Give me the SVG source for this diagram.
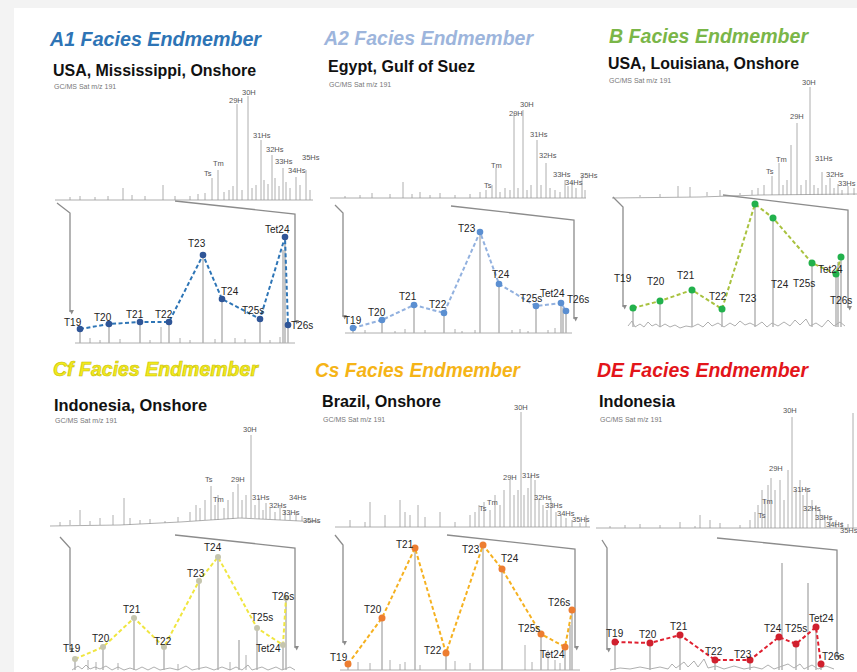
<svg xmlns="http://www.w3.org/2000/svg" width="857" height="672" viewBox="0 0 857 672">
<defs>
<marker id="ar" viewBox="0 0 6 6" refX="3" refY="5" markerWidth="5" markerHeight="5" orient="auto-start-reverse" markerUnits="userSpaceOnUse"><path d="M0,0 L6,0 L3,6 Z" fill="#8c8c8c" transform="rotate(-90 3 3)"/></marker>
<style>
.ttl{font-family:'Liberation Sans',Arial,sans-serif;font-style:italic;font-weight:bold;font-size:19.5px}
.sub{font-family:'Liberation Sans',Arial,sans-serif;font-weight:bold;font-size:17px;fill:#111}
.gc{font-family:'Liberation Sans',Arial,sans-serif;font-size:7px;fill:#777}
.pk{font-family:'Liberation Sans',Arial,sans-serif;font-size:7.5px;fill:#555}
.lb{font-family:'Liberation Sans',Arial,sans-serif;font-size:10px;fill:#222}
.chr{fill:none;stroke:#9a9a9a;stroke-width:0.8}
.pkl{fill:none;stroke:#b0b0b0;stroke-width:1.4}
.brk{fill:none;stroke:#8c8c8c;stroke-width:1.3}
.dl{fill:none;stroke-width:2;stroke-dasharray:4 2.5}
</style>
</defs>
<rect x="0" y="0" width="857" height="672" fill="#f3f3f3"/>
<rect x="14" y="8" width="843" height="664" fill="#ffffff"/>

<g id="connectors">
<path class="brk" d="M57,203 L70,213 V312" marker-end="url(#ar)"/>
<path class="brk" d="M175,201 L295,214 V322" marker-end="url(#ar)"/>
<path class="brk" d="M335,205 L343,213 V317" marker-end="url(#ar)"/>
<path class="brk" d="M451,206 L574,220 V319" marker-end="url(#ar)"/>
<path class="brk" d="M613,197 L623,207 V307" marker-end="url(#ar)"/>
<path class="brk" d="M723,195 L848,210 V308" marker-end="url(#ar)"/>
<path class="brk" d="M60,537 L70,548 V650" marker-end="url(#ar)"/>
<path class="brk" d="M175,535 L295,548 V648" marker-end="url(#ar)"/>
<path class="brk" d="M335,535 L343,545 V643" marker-end="url(#ar)"/>
<path class="brk" d="M447,535 L575,549 V648" marker-end="url(#ar)"/>
<path class="brk" d="M602,540 L607,548 V650" marker-end="url(#ar)"/>
<path class="brk" d="M717,538 L837,550 V657" marker-end="url(#ar)"/>
</g>

<g id="a1">
<text class="ttl" x="50" y="46" fill="#2e74b5" textLength="211" lengthAdjust="spacingAndGlyphs">A1 Facies Endmember</text>
<text class="sub" x="53" y="76" textLength="203" lengthAdjust="spacingAndGlyphs">USA, Mississippi, Onshore</text>
<text class="gc" x="54" y="89">GC/MS Sat m/z 191</text>
<path class="chr" d="M55,200 H313 M70,200V197 M80,200V196 M95,200V197 M108,200V196 M123,200V188 M132,200V195 M145,200V196 M163,200V185 M175,200V196 M190,200V196 M198,200V194 M205,200V193 M212,200V178 M218,200V170 M224,200V192 M229,200V190 M233,200V186 M237,200V104 M242,200V190 M248,200V96 M252,200V188 M256,200V185 M261,200V140 M264,200V180 M268,200V184 M272,200V155 M275,200V178 M279,200V186 M283,200V168 M286,200V182 M290,200V188 M296,200V177 M300,200V185 M306,200V170 M310,200V190"/>
<text class="pk" x="242" y="95">30H</text>
<text class="pk" x="229" y="103">29H</text>
<text class="pk" x="253" y="138">31Hs</text>
<text class="pk" x="266" y="152">32Hs</text>
<text class="pk" x="275" y="164">33Hs</text>
<text class="pk" x="288" y="173">34Hs</text>
<text class="pk" x="302" y="160">35Hs</text>
<text class="pk" x="213" y="166">Tm</text>
<text class="pk" x="204" y="176">Ts</text>
<path class="chr" d="M75,343 H295 M90,343V338 M100,343V340 M120,343V339 M150,343V340 M161,343V327 M180,343V338 M190,343V340 M215,343V339 M235,343V338 M245,343V339 M270,343V340 M280,343V337"/>
<path class="pkl" d="M80,343V329 M109,343V324 M140,343V322 M169,343V322 M203,343V255 M222,343V299 M260,343V319 M285,343V237 M283,343V250 M288,343V325"/>
<path class="dl" stroke="#2e75b6" d="M80,329 L109,324 L140,322 L169,322 L203,255 L222,299 L260,319 L285,237 L288,325"/>
<g fill="#2f5597">
<circle cx="80" cy="329" r="3.3"/><circle cx="109" cy="324" r="3.3"/><circle cx="140" cy="322" r="3.3"/><circle cx="169" cy="322" r="3.3"/><circle cx="203" cy="255" r="3.3"/><circle cx="222" cy="299" r="3.3"/><circle cx="260" cy="319" r="3.3"/><circle cx="285" cy="237" r="3.3"/><circle cx="288" cy="325" r="3.3"/>
</g>
<text class="lb" x="64" y="326">T19</text>
<text class="lb" x="94" y="321">T20</text>
<text class="lb" x="126" y="318">T21</text>
<text class="lb" x="155" y="318">T22</text>
<text class="lb" x="188" y="247">T23</text>
<text class="lb" x="221" y="295">T24</text>
<text class="lb" x="242" y="314">T25s</text>
<text class="lb" x="265" y="233">Tet24</text>
<text class="lb" x="291" y="329">T26s</text>
</g>

<g id="a2">
<text class="ttl" x="324" y="45" fill="#9db5dc" textLength="209" lengthAdjust="spacingAndGlyphs">A2 Facies Endmember</text>
<text class="sub" x="328" y="72" textLength="147" lengthAdjust="spacingAndGlyphs">Egypt, Gulf of Suez</text>
<text class="gc" x="329" y="87">GC/MS Sat m/z 191</text>
<path class="chr" d="M330,198 H586 M345,198V196 M360,198V195 M372,198V193 M390,198V194 M403,198V182 M412,198V194 M420,198V192 M430,198V195 M440,198V193 M455,198V195 M470,198V194 M480,198V192 M486,198V190 M492,198V185 M496,198V168 M500,198V192 M505,198V188 M510,198V190 M514,198V113 M518,198V188 M523,198V110 M527,198V190 M531,198V185 M537,198V140 M541,198V185 M546,198V163 M550,198V188 M555,198V190 M560,198V192 M565,198V180 M568,198V186 M572,198V182 M576,198V188 M582,198V175 M585,198V190"/>
<text class="pk" x="520" y="107">30H</text>
<text class="pk" x="509" y="116">29H</text>
<text class="pk" x="530" y="137">31Hs</text>
<text class="pk" x="539" y="158">32Hs</text>
<text class="pk" x="553" y="177">33Hs</text>
<text class="pk" x="565" y="185">34Hs</text>
<text class="pk" x="580" y="178">35Hs</text>
<text class="pk" x="491" y="168">Tm</text>
<text class="pk" x="484" y="188">Ts</text>
<path class="chr" d="M345,333 H572 M365,333V330 M395,333V331 M405,333V329 M425,333V330 M455,333V329 M462,333V331 M475,333V330 M512,333V330 M520,333V329 M528,333V331 M548,333V330 M555,333V328"/>
<path class="pkl" d="M353,333V328 M382,333V320 M414,333V305 M444,333V313 M480,333V232 M499,333V284 M536,333V306 M561,333V303 M563,333V308 M566,333V311"/>
<path class="dl" stroke="#92b1df" d="M353,328 L382,320 L414,305 L444,313 L480,232 L499,284 L536,306 L561,303 L566,311"/>
<g fill="#5b8fd1">
<circle cx="353" cy="328" r="3.3"/><circle cx="382" cy="320" r="3.3"/><circle cx="414" cy="305" r="3.3"/><circle cx="444" cy="313" r="3.3"/><circle cx="480" cy="232" r="3.3"/><circle cx="499" cy="284" r="3.3"/><circle cx="536" cy="306" r="3.3"/><circle cx="561" cy="303" r="3.3"/><circle cx="566" cy="311" r="3.3"/>
</g>
<text class="lb" x="344" y="324">T19</text>
<text class="lb" x="368" y="316">T20</text>
<text class="lb" x="399" y="300">T21</text>
<text class="lb" x="429" y="308">T22</text>
<text class="lb" x="458" y="232">T23</text>
<text class="lb" x="492" y="278">T24</text>
<text class="lb" x="520" y="302">T25s</text>
<text class="lb" x="540" y="297">Tet24</text>
<text class="lb" x="567" y="303">T26s</text>
</g>

<g id="b">
<text class="ttl" x="609" y="43" fill="#7ab648" textLength="199" lengthAdjust="spacingAndGlyphs">B Facies Endmember</text>
<text class="sub" x="608" y="69" textLength="191" lengthAdjust="spacingAndGlyphs">USA, Louisiana, Onshore</text>
<text class="gc" x="609" y="83">GC/MS Sat m/z 191</text>
<path class="chr" d="M612,198 L700,197 L760,195 L857,194 M640,197V195 M660,197V194 M678,197V186 M690,197V187 M707,196V192 M720,196V190 M740,195V193 M752,195V190 M758,195V188 M764,195V185 M772,195V176 M779,195V163 M783,195V185 M787,195V180 M791,195V145 M797,195V123 M801,195V185 M806,195V180 M810,195V87 M814,195V185 M818,195V188 M822,195V172 M826,195V185 M830,195V178 M834,195V188 M838,195V184 M842,195V190 M848,195V186 M854,195V188"/>
<text class="pk" x="802" y="85">30H</text>
<text class="pk" x="790" y="119">29H</text>
<text class="pk" x="776" y="162">Tm</text>
<text class="pk" x="766" y="174">Ts</text>
<text class="pk" x="815" y="161">31Hs</text>
<text class="pk" x="826" y="177">32Hs</text>
<text class="pk" x="838" y="186">33Hs</text>
<path class="chr" d="M628,326 L632,321 L635,327 L640,324 L644,327 L648,322 L652,326 L656,324 L660,327 L665,324 L670,327 L675,325 L680,328 L686,326 L692,327 L698,324 L703,327 L708,322 L712,326 L718,323 L724,327 L730,323 L735,326 L740,321 L745,325 L750,323 L756,326 L762,322 L767,327 L772,323 L778,326 L784,322 L790,326 L795,320 L800,325 L806,319 L810,326 L816,323 L822,327 L828,320 L834,326 L840,322 L845,326"/>
<path class="pkl" d="M633,327V308 M660,327V301 M692,327V290 M722,327V309 M755,327V204 M773,327V218 M812,327V263 M836,327V274 M838,327V262 M841,327V257"/>
<path class="dl" stroke="#a9c23f" d="M633,308 L660,301 L692,290 L722,309 L755,204 L773,218 L812,263 L836,274 L841,257"/>
<g fill="#22b14c">
<circle cx="633" cy="308" r="3.5"/><circle cx="660" cy="301" r="3.5"/><circle cx="692" cy="290" r="3.5"/><circle cx="722" cy="309" r="3.5"/><circle cx="755" cy="204" r="3.5"/><circle cx="773" cy="218" r="3.5"/><circle cx="812" cy="263" r="3.5"/><circle cx="836" cy="274" r="3.5"/><circle cx="841" cy="257" r="3.5"/>
</g>
<text class="lb" x="614" y="282">T19</text>
<text class="lb" x="647" y="285">T20</text>
<text class="lb" x="677" y="279">T21</text>
<text class="lb" x="709" y="300">T22</text>
<text class="lb" x="739" y="302">T23</text>
<text class="lb" x="771" y="288">T24</text>
<text class="lb" x="793" y="287">T25s</text>
<text class="lb" x="818" y="273">Tet24</text>
<text class="lb" x="830" y="304">T26s</text>
</g>

<g id="cf">
<text class="ttl" x="53" y="376" fill="#f2ea1d" stroke="#c9c000" stroke-width="0.6" textLength="205" lengthAdjust="spacingAndGlyphs">Cf Facies Endmember</text>
<text class="sub" x="54" y="411" textLength="153" lengthAdjust="spacingAndGlyphs">Indonesia, Onshore</text>
<text class="gc" x="55" y="423">GC/MS Sat m/z 191</text>
<path class="chr" d="M50,526 L120,525 L180,522 L240,518 L320,522 M60,526V522 M70,525V520 M80,525V510 M90,525V521 M100,525V518 M113,525V515 M124,525V498 M130,525V518 M140,524V520 M150,524V519 M165,523V521 M178,522V517 M190,521V512 M196,521V505 M200,521V508 M205,520V500 M211,520V486 M215,520V505 M218,520V495 M224,519V508 M228,519V500 M233,519V492 M238,518V484 M242,518V500 M246,518V495 M251,518V435 M255,518V505 M259,519V498 M263,519V510 M266,519V503 M270,519V508 M275,520V512 M280,520V506 M285,520V510 M290,520V514 M296,521V512 M302,521V516 M308,521V518 M314,522V520"/>
<text class="pk" x="243" y="432">30H</text>
<text class="pk" x="205" y="482">Ts</text>
<text class="pk" x="231" y="482">29H</text>
<text class="pk" x="213" y="502">Tm</text>
<text class="pk" x="252" y="500">31Hs</text>
<text class="pk" x="269" y="508">32Hs</text>
<text class="pk" x="282" y="515">33Hs</text>
<text class="pk" x="289" y="500">34Hs</text>
<text class="pk" x="303" y="523">35Hs</text>
<path class="chr" d="M72,670 L78,666 L82,669 L86,665 L90,669 L95,667 L100,669 L106,666 L112,670 L118,667 L124,670 L130,668 L136,670 L142,667 L148,670 L154,667 L160,670 L170,668 L178,670 L186,666 L192,670 L206,667 L214,670 L222,667 L230,670 L236,667 L242,670 L248,665 L252,670 L262,667 L268,670 L276,667 L282,670 L290,667 L295,670 M88,670V660 M96,670V662 M118,670V663 M178,670V664 M230,670V662 M246,670V655"/>
<path class="pkl" d="M75,670V659 M103,670V647 M134,670V618 M164,670V647 M199,670V581 M218,670V557 M239,670V640 M257,670V628 M283,670V645 M286,670V598"/>
<path class="dl" stroke="#f0e640" d="M75,659 L103,647 L134,618 L164,647 L199,581 L218,557 L257,628 L283,645 L286,598"/>
<g fill="#c5c5ae">
<circle cx="75" cy="659" r="3"/><circle cx="103" cy="647" r="3"/><circle cx="134" cy="618" r="3"/><circle cx="164" cy="647" r="3"/><circle cx="199" cy="581" r="3"/><circle cx="218" cy="557" r="3"/><circle cx="257" cy="628" r="3"/><circle cx="283" cy="645" r="3"/><circle cx="286" cy="598" r="3"/>
</g>
<text class="lb" x="63" y="652">T19</text>
<text class="lb" x="92" y="642">T20</text>
<text class="lb" x="123" y="613">T21</text>
<text class="lb" x="154" y="645">T22</text>
<text class="lb" x="187" y="577">T23</text>
<text class="lb" x="204" y="551">T24</text>
<text class="lb" x="251" y="621">T25s</text>
<text class="lb" x="256" y="652">Tet24</text>
<text class="lb" x="272" y="600">T26s</text>
</g>

<g id="cs">
<text class="ttl" x="315" y="377" fill="#f5b417" textLength="205" lengthAdjust="spacingAndGlyphs">Cs Facies Endmember</text>
<text class="sub" x="322" y="407" textLength="119" lengthAdjust="spacingAndGlyphs">Brazil, Onshore</text>
<text class="gc" x="323" y="422">GC/MS Sat m/z 191</text>
<path class="chr" d="M335,527 H590 M350,527V520 M365,527V522 M370,527V502 M385,527V515 M400,527V500 M405,527V512 M410,527V515 M418,527V505 M425,527V517 M440,527V512 M455,527V522 M470,527V515 M475,527V512 M479,527V505 M484,527V502 M490,527V510 M495,527V495 M500,527V505 M504,527V490 M510,527V480 M514,527V495 M518,527V490 M521,527V412 M524,527V495 M528,527V488 M531,527V475 M535,527V480 M539,527V500 M543,527V505 M547,527V510 M551,527V500 M556,527V512 M561,527V515 M566,527V518 M572,527V520 M580,527V523 M586,527V515"/>
<text class="pk" x="514" y="410">30H</text>
<text class="pk" x="503" y="480">29H</text>
<text class="pk" x="522" y="478">31Hs</text>
<text class="pk" x="534" y="500">32Hs</text>
<text class="pk" x="545" y="508">33Hs</text>
<text class="pk" x="557" y="516">34Hs</text>
<text class="pk" x="572" y="522">35Hs</text>
<text class="pk" x="487" y="505">Tm</text>
<text class="pk" x="479" y="511">Ts</text>
<path class="chr" d="M340,670 H580 M358,670V662 M370,670V663 M390,670V660 M400,670V664 M405,670V662 M420,670V665 M455,670V661 M470,670V663 M525,670V645 M532,670V662 M548,670V650 M555,670V660 M560,670V663"/>
<path class="pkl" d="M348,670V664 M382,670V618 M415,670V548 M446,670V653 M483,670V545 M502,670V569 M541,670V634 M565,670V647 M570,670V625 M572,670V610"/>
<path class="dl" stroke="#f5b120" d="M348,664 L382,618 L415,548 L446,653 L483,545 L502,569 L541,634 L565,647 L572,610"/>
<g fill="#ed7d31">
<circle cx="348" cy="664" r="3.5"/><circle cx="382" cy="618" r="3.5"/><circle cx="415" cy="548" r="3.5"/><circle cx="446" cy="653" r="3.5"/><circle cx="483" cy="545" r="3.5"/><circle cx="502" cy="569" r="3.5"/><circle cx="541" cy="634" r="3.5"/><circle cx="565" cy="647" r="3.5"/><circle cx="572" cy="610" r="3.5"/>
</g>
<text class="lb" x="330" y="661">T19</text>
<text class="lb" x="364" y="613">T20</text>
<text class="lb" x="396" y="548">T21</text>
<text class="lb" x="424" y="654">T22</text>
<text class="lb" x="462" y="553">T23</text>
<text class="lb" x="501" y="562">T24</text>
<text class="lb" x="518" y="632">T25s</text>
<text class="lb" x="540" y="658">Tet24</text>
<text class="lb" x="548" y="606">T26s</text>
</g>

<g id="de">
<text class="ttl" x="597" y="377" fill="#e3151a" textLength="211" lengthAdjust="spacingAndGlyphs">DE Facies Endmember</text>
<text class="sub" x="599" y="407" textLength="76" lengthAdjust="spacingAndGlyphs">Indonesia</text>
<text class="gc" x="600" y="422">GC/MS Sat m/z 191</text>
<path class="chr" d="M596,528 H857 M610,528V526 M625,528V525 M640,528V524 M660,528V525 M680,528V522 M695,528V526 M700,528V515 M710,528V520 M720,528V523 M740,528V525 M750,528V520 M755,528V512 M758,528V505 M762,528V490 M765,528V500 M768,528V485 M771,528V478 M775,528V490 M780,528V480 M784,528V500 M788,528V470 M792,528V417 M796,528V490 M800,528V480 M803,528V495 M807,528V488 M812,528V500 M816,528V505 M820,528V510 M825,528V515 M830,528V518 M836,528V520 M842,528V522 M848,528V524 M853,528V413"/>
<text class="pk" x="783" y="413">30H</text>
<text class="pk" x="769" y="471">29H</text>
<text class="pk" x="793" y="492">31Hs</text>
<text class="pk" x="762" y="504">Tm</text>
<text class="pk" x="758" y="518">Ts</text>
<text class="pk" x="803" y="511">32Hs</text>
<text class="pk" x="815" y="520">33Hs</text>
<text class="pk" x="826" y="527">34Hs</text>
<text class="pk" x="840" y="533">35Hs</text>
<path class="chr" d="M610,670 L620,668 L630,669 L640,667 L650,669 L660,667 L668,669 L672,664 L676,668 L684,662 L688,667 L694,661 L698,667 L704,659 L708,668 L716,666 L724,669 L734,666 L744,669 L754,667 L762,669 L768,665 L774,669 L788,664 L794,668 L800,664 L804,669 L812,665 L818,669 L826,666 L834,669"/>
<path class="pkl" d="M615,670V642 M650,670V643 M680,670V635 M715,670V660 M750,670V660 M779,670V637 M782,670V563 M796,670V644 M808,670V583 M816,670V627 M821,670V664"/>
<path class="dl" stroke="#e02030" d="M615,642 L650,643 L680,635 L715,660 L750,660 L779,637 L796,644 L816,627 L821,664"/>
<g fill="#d0202e">
<circle cx="615" cy="642" r="3.5"/><circle cx="650" cy="643" r="3.5"/><circle cx="680" cy="635" r="3.5"/><circle cx="715" cy="660" r="3.5"/><circle cx="750" cy="660" r="3.5"/><circle cx="779" cy="637" r="3.5"/><circle cx="796" cy="644" r="3.5"/><circle cx="816" cy="627" r="3.5"/><circle cx="821" cy="664" r="3.5"/>
</g>
<text class="lb" x="606" y="637">T19</text>
<text class="lb" x="639" y="638">T20</text>
<text class="lb" x="670" y="630">T21</text>
<text class="lb" x="705" y="655">T22</text>
<text class="lb" x="734" y="658">T23</text>
<text class="lb" x="764" y="632">T24</text>
<text class="lb" x="785" y="632">T25s</text>
<text class="lb" x="809" y="622">Tet24</text>
<text class="lb" x="822" y="660">T26s</text>
</g>
</svg>
